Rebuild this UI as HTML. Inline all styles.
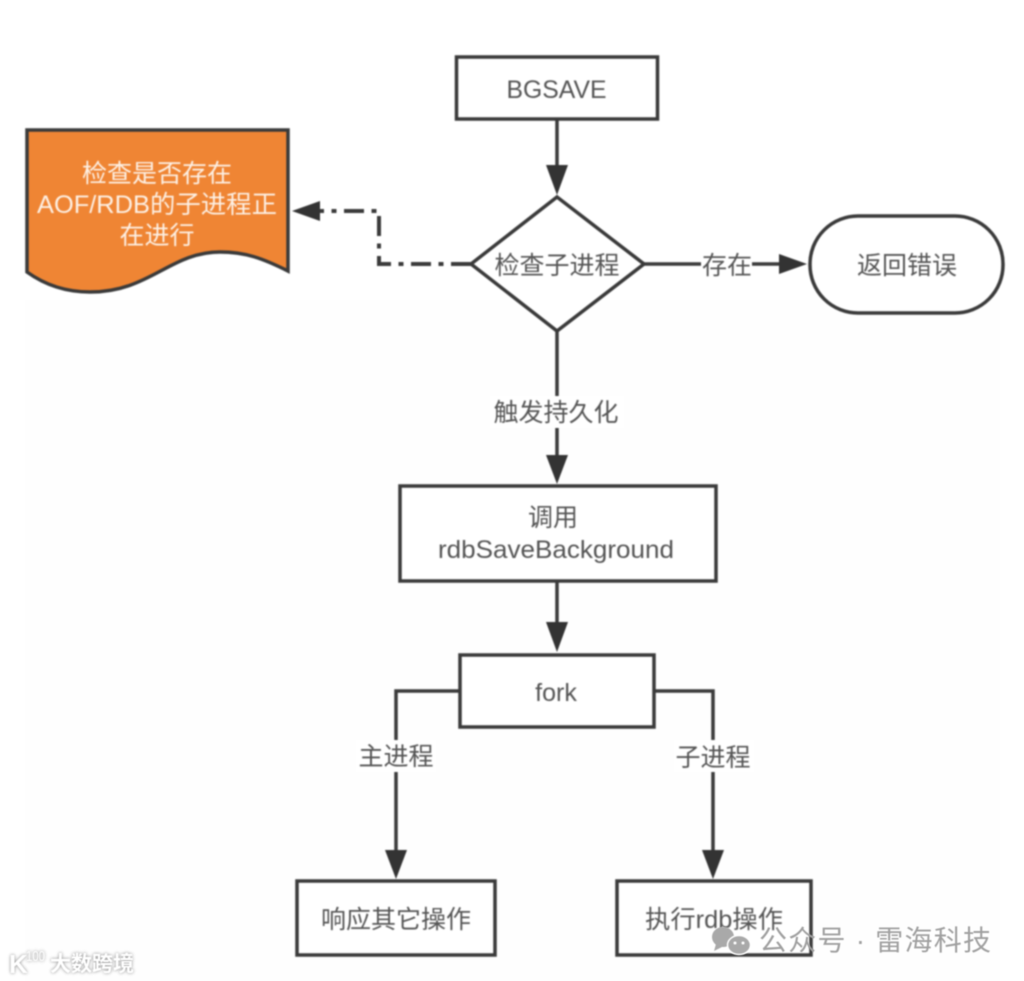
<!DOCTYPE html>
<html><head><meta charset="utf-8">
<style>
html,body{margin:0;padding:0;background:#fff}
svg{display:block}
text{font-family:"Liberation Sans","Noto Sans CJK SC",sans-serif}
</style></head>
<body>
<svg width="1024" height="981" viewBox="0 0 1024 981" xmlns="http://www.w3.org/2000/svg">
<rect width="1024" height="981" fill="#fff"/>
<rect x="25" y="300" width="975" height="681" fill="#fefefe"/>
<g style="filter:blur(.8px)">
<g fill="none" stroke="#3a3a3a" stroke-width="3.500">
<rect x="456.500" y="57" width="201" height="62"/>
<path d="M557 119V170"/>
<path d="M557 197L644 264L557 331L471 264Z" fill="#fff"/>
<path d="M644 264H782"/>
<rect x="810" y="216" width="193" height="97" rx="48" fill="#fff"/>
<path d="M557 331V458"/>
<rect x="400" y="486" width="316" height="95" fill="#fff"/>
<path d="M557 581V626"/>
<rect x="460" y="655" width="194" height="72" fill="#fff"/>
<path d="M460 691H396V853"/>
<path d="M654 691H713V853"/>
<rect x="297" y="881" width="198" height="74" fill="#fff"/>
<rect x="617" y="881" width="194" height="74" fill="#fff"/>
<path d="M471 264H379V211H318" stroke-dasharray="20 7.500 5 7.500" stroke-width="4"/>
<path d="M27 130H288V271C262 258 245 252 220 252C170 252 150 292 90 292C65 292 45 285 27 272Z" fill="#ef8534"/>
</g>
<g fill="#333">
<path d="M546 165H568L557 195Z"/>
<path d="M779 254V274L807 264Z"/>
<path d="M546 455H568L557 484Z"/>
<path d="M546 622H568L557 652Z"/>
<path d="M385 850H407L396 879Z"/>
<path d="M702 850H724L713 879Z"/>
<path d="M320 201V221L292 211Z"/>
</g>
<rect x="701" y="250" width="51" height="28" fill="#fff"/>
<rect x="490" y="396" width="134" height="32" fill="#fff"/>
<rect x="356" y="740" width="80" height="32" fill="#fff"/>
<rect x="674" y="740" width="80" height="32" fill="#fff"/>
<g fill="#555" font-size="25" text-anchor="middle">
<text x="556.500" y="98" textLength="100" lengthAdjust="spacingAndGlyphs">BGSAVE</text>
<text x="557" y="274">检查子进程</text>
<text x="727" y="274">存在</text>
<text x="907" y="274">返回错误</text>
<text x="556" y="421">触发持久化</text>
<text x="553" y="526">调用</text>
<text x="556" y="558" textLength="236" lengthAdjust="spacingAndGlyphs">rdbSaveBackground</text>
<text x="556" y="701">fork</text>
<text x="396" y="765">主进程</text>
<text x="713" y="766">子进程</text>
<text x="396" y="928">响应其它操作</text>
<text x="714" y="928" textLength="138" lengthAdjust="spacingAndGlyphs">执行rdb操作</text>
</g>
<g fill="#fdf0e4" font-size="25" text-anchor="middle">
<text x="157" y="182">检查是否存在</text>
<text x="157" y="213" textLength="240" lengthAdjust="spacingAndGlyphs">AOF/RDB的子进程正</text>
<text x="157" y="244">在进行</text>
</g>
</g>
<g style="filter:blur(.4px)">
<g fill="#a9a9a9">
<ellipse cx="723" cy="937" rx="11" ry="10"/>
<path d="M716 944l-2 7 8-4z"/>
<ellipse cx="739" cy="945" rx="11.500" ry="9.500" stroke="#fff" stroke-width="1.500"/>
<circle cx="735" cy="943" r="1.500" fill="#fff"/>
<circle cx="743" cy="943" r="1.500" fill="#fff"/>
</g>
<text x="759" y="950" font-size="28" fill="#a0a0a0" textLength="232">公众号 · 雷海科技</text>
</g>
<g style="filter:drop-shadow(0 0 1.500px #888) blur(.4px)">
<text x="9" y="973" font-size="26" font-weight="bold" fill="#fff">K</text>
<text x="26" y="961" font-size="15" fill="#fff" textLength="19" lengthAdjust="spacingAndGlyphs">100</text>
<text x="50" y="971" font-size="21" font-weight="bold" fill="#fff">大数跨境</text>
</g>
</svg>
</body></html>
